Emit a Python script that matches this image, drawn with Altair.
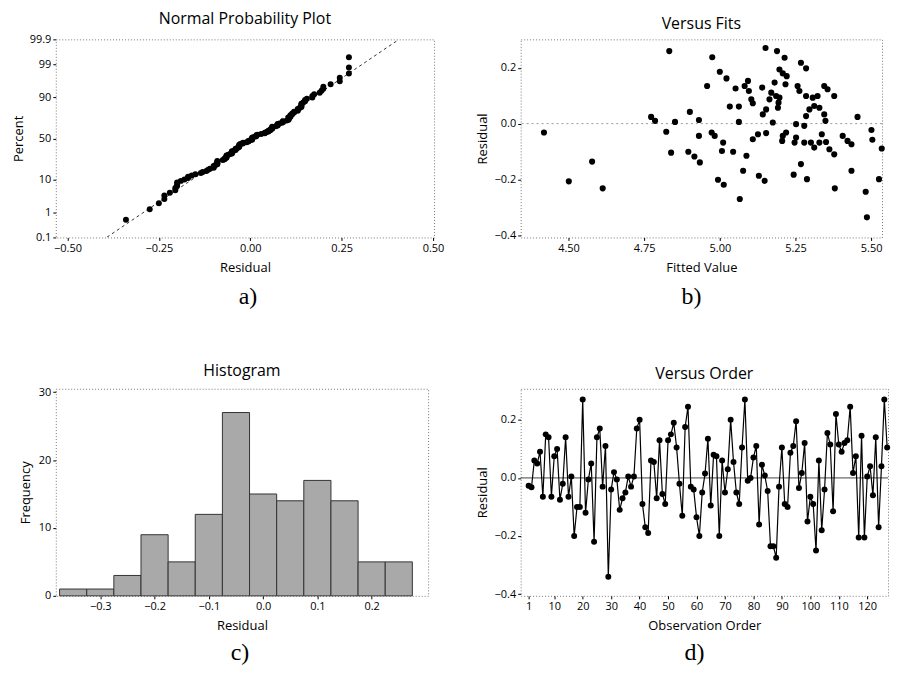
import altair as alt
import pandas as pd
from statistics import NormalDist, mean, stdev

# ---------------- data ----------------
# residuals in observation order (panel d)
residuals = [
    -0.027, -0.032, 0.06, 0.05, 0.09, -0.065, 0.15, 0.14, -0.065, 0.075,
    0.10, -0.075, -0.02, 0.14, -0.065, 0.005, -0.20, -0.10, -0.10, 0.27,
    -0.12, -0.005, 0.05, -0.22, 0.14, 0.17, -0.03, 0.11, -0.34, -0.04,
    0.02, -0.005, -0.11, -0.07, -0.05, 0.005, -0.03, 0.005, 0.17, 0.20,
    -0.09, -0.17, -0.19, 0.06, 0.055, -0.07, 0.13, -0.055, -0.09, 0.13,
    0.15, 0.19, 0.105, -0.02, -0.13, 0.175, 0.245, -0.03, -0.04, -0.135,
    -0.20, -0.05, 0.015, 0.135, -0.095, 0.08, 0.075, -0.20, 0.06, -0.05,
    0.03, 0.20, 0.055, -0.05, -0.09, 0.105, 0.27, -0.01, 0.0, 0.07,
    0.11, -0.16, 0.045, 0.008, -0.045, -0.235, -0.235, -0.275, -0.03, 0.105,
    -0.09, -0.10, 0.087, 0.11, 0.195, -0.035, 0.017, 0.12, -0.15, -0.065,
    -0.09, -0.25, 0.06, -0.18, -0.04, 0.155, 0.115, -0.115, 0.22, 0.115,
    0.09, 0.12, 0.13, 0.245, 0.017, 0.075, -0.205, 0.145, -0.205, 0.005,
    0.04, -0.06, 0.14, -0.17, 0.04, 0.27, 0.105,
]

# histogram (panel c)
hist_left = [-0.375, -0.325, -0.275, -0.225, -0.175, -0.125, -0.075,
             -0.025, 0.025, 0.075, 0.125, 0.175, 0.225]
hist_counts = [1, 1, 3, 9, 5, 12, 27, 15, 14, 17, 14, 5, 5]
bin_width = 0.05

# versus fits (panel b)
fits_x = [
    4.833, 4.419, 4.578, 4.501, 4.613, 4.773, 4.786, 4.823, 4.852, 4.901,
    4.931, 4.931, 4.839, 4.896, 4.916, 4.934,
    5.151, 5.189, 5.214, 4.975, 5.268, 5.285, 5.000, 5.022, 5.197, 5.208,
    5.221, 5.217, 5.093, 5.082, 5.052, 4.958, 5.140, 5.181, 5.096, 5.104,
    5.109, 5.170, 5.186, 5.197, 5.257, 5.263, 5.285, 5.307, 5.323, 5.345,
    5.356, 5.378, 5.164, 5.192, 5.194, 5.153, 5.142, 5.063, 5.033, 5.296,
    5.312, 5.329, 5.345, 5.349, 5.285, 5.455, 5.063, 5.175, 5.252, 5.279,
    5.252, 4.973, 4.983, 5.011, 5.007, 5.044, 5.088, 5.109, 5.126, 5.153,
    5.208, 5.206, 5.219, 5.247, 5.279, 5.301, 5.312, 5.329, 5.337, 5.351,
    5.362, 5.378, 5.406, 5.422, 5.435, 5.501, 5.504, 5.535, 5.077, 5.268,
    5.435, 5.129, 5.148, 5.244, 5.288, 4.994, 5.013, 5.526, 5.066, 5.380,
    5.482, 5.486,
]
fits_y = [
    0.260, -0.032, -0.136, -0.207, -0.232, 0.024, 0.010, -0.029, 0.006, 0.042,
    0.013, -0.044, -0.104, -0.101, -0.118, -0.139,
    0.271, 0.260, 0.236, 0.238, 0.218, 0.198, 0.186, 0.162, 0.194, 0.180,
    0.170, 0.141, 0.153, 0.135, 0.126, 0.135, 0.129, 0.147, 0.117, 0.087,
    0.073, 0.111, 0.099, 0.093, 0.135, 0.117, 0.099, 0.093, 0.099, 0.135,
    0.123, 0.099, 0.087, 0.057, 0.075, 0.051, 0.033, 0.061, 0.061, 0.051,
    0.063, 0.057, 0.033, 0.010, 0.027, 0.024, 0.006, 0.004, -0.002, -0.008,
    -0.050, -0.032, -0.044, -0.068, -0.098, -0.101, -0.115, -0.056, -0.038, -0.034,
    -0.044, -0.062, -0.032, -0.068, -0.068, -0.068, -0.086, -0.068, -0.038, -0.066,
    -0.092, -0.110, -0.044, -0.062, -0.074, -0.023, -0.058, -0.089, -0.169, -0.145,
    -0.169, -0.187, -0.205, -0.183, -0.199, -0.201, -0.219, -0.199, -0.270, -0.232,
    -0.244, -0.336,
]

pct_ticks = [0.1, 1, 10, 50, 90, 99, 99.9]
res_ticks = [-0.5, -0.25, 0.0, 0.25, 0.5]
fit_ticks = [4.5, 4.75, 5.0, 5.25, 5.5]
resid_ticks = [-0.4, -0.2, 0.0, 0.2]
hist_x_ticks = [-0.3, -0.2, -0.1, 0.0, 0.1, 0.2]
hist_y_ticks = [0, 10, 20, 30]
order_ticks = [1, 10, 20, 30, 40, 50, 60, 70, 80, 90, 100, 110, 120]

assert len(fits_x) == len(fits_y)

# ---------------- derived tables ----------------
nd = NormalDist()
n = len(residuals)
norm_df = pd.DataFrame({
    "residual": sorted(residuals),
    "z": [nd.inv_cdf((i + 1 - 0.3) / (n + 0.4)) for i in range(n)],
})
m, s = mean(residuals), stdev(residuals)
zlim = -nd.inv_cdf(0.001)
line_df = pd.DataFrame({"z": [-zlim, zlim]})
line_df["residual"] = m + s * line_df["z"]

pct_z = [nd.inv_cdf(p / 100) for p in pct_ticks]
label_expr = "''"
for p, z in reversed(list(zip(pct_ticks, pct_z))):
    label_expr = f"abs(datum.value - ({z:.6f})) < 0.001 ? '{p:g}' : ({label_expr})"

fits_df = pd.DataFrame({"fitted": fits_x, "residual": fits_y})
hist_df = pd.DataFrame({"left": hist_left, "count": hist_counts})
hist_df["right"] = hist_df["left"] + bin_width
order_df = pd.DataFrame({"obs": list(range(1, n + 1)), "residual": residuals})
zero_df = pd.DataFrame({"y": [0.0]})

SERIF = "Liberation Serif"


def caption(label, w, h, dy):
    return alt.Chart(pd.DataFrame({"cap": [label]})).mark_text(
        font=SERIF, fontSize=24, color="black"
    ).encode(x=alt.value(w / 2), y=alt.value(h + dy), text="cap:N")


# ---------------- panel a ----------------
WA, HA = 380, 199
xa = alt.X("residual:Q", scale=alt.Scale(domain=[-0.532, 0.503], nice=False, zero=False),
           axis=alt.Axis(values=res_ticks, format=".2f", title="Residual"))
ya = alt.Y("z:Q", scale=alt.Scale(domain=[-3.1, 3.1], nice=False),
           axis=alt.Axis(values=pct_z, labelExpr=label_expr, title="Percent", titlePadding=4))
line_a = alt.Chart(line_df).mark_line(color="#333333", strokeWidth=1, strokeDash=[3, 3], clip=True).encode(x=xa, y=ya)
pts_a = alt.Chart(norm_df).mark_circle(size=36, color="black", opacity=1).encode(x=xa, y=ya)
panel_a = alt.layer(line_a, pts_a, caption("a)", WA + 6, HA, 60)).properties(
    width=WA, height=HA, title="Normal Probability Plot")

# ---------------- panel b ----------------
WB, HB = 363, 199
yb_scale = alt.Scale(domain=[-0.408, 0.302], nice=False)
xb = alt.X("fitted:Q", scale=alt.Scale(domain=[4.342, 5.536], nice=False, zero=False),
           axis=alt.Axis(values=fit_ticks, format=".2f", title="Fitted Value"))
yb = alt.Y("residual:Q", scale=yb_scale,
           axis=alt.Axis(values=resid_ticks, format=".1f", title="Residual", titlePadding=5))
ref_b = alt.Chart(zero_df).mark_rule(color="#999999", strokeDash=[2, 3]).encode(
    y=alt.Y("y:Q", scale=yb_scale))
pts_b = alt.Chart(fits_df).mark_circle(size=38, color="black", opacity=1).encode(x=xb, y=yb)
panel_b = alt.layer(ref_b, pts_b, caption("b)", WB - 20, HB, 60)).properties(
    width=WB, height=HB, title="Versus Fits")

# ---------------- panel c ----------------
WC, HC = 374, 208
xc = alt.X("left:Q", scale=alt.Scale(domain=[-0.382, 0.304], nice=False, zero=False),
           axis=alt.Axis(values=hist_x_ticks, format=".1f", title="Residual"))
yc = alt.Y("count:Q", scale=alt.Scale(domain=[0, 30.5], nice=False),
           axis=alt.Axis(values=hist_y_ticks, title="Frequency", titlePadding=6))
bars_c = alt.Chart(hist_df).mark_rect(color="#a9a9a9", stroke="#333333", strokeWidth=1).encode(
    x=xc, x2="right:Q", y=yc, y2=alt.datum(0))
panel_c = alt.layer(bars_c, caption("c)", WC - 4, HC, 57)).properties(
    width=WC, height=HC, title="Histogram")

# ---------------- panel d ----------------
WD, HD = 369, 208
yd_scale = alt.Scale(domain=[-0.406, 0.307], nice=False)
xd = alt.X("obs:Q", scale=alt.Scale(domain=[-1.8, 127.3], nice=False, zero=False),
           axis=alt.Axis(values=order_ticks, format="d", title="Observation Order"))
yd = alt.Y("residual:Q", scale=yd_scale,
           axis=alt.Axis(values=resid_ticks, format=".1f", title="Residual", titlePadding=5))
ref_d = alt.Chart(zero_df).mark_rule(color="#444444", strokeWidth=1).encode(
    y=alt.Y("y:Q", scale=yd_scale))
line_d = alt.Chart(order_df).mark_line(color="black", strokeWidth=1.2).encode(x=xd, y=yd)
pts_d = alt.Chart(order_df).mark_circle(size=36, color="black", opacity=1).encode(x=xd, y=yd)
panel_d = alt.layer(ref_d, line_d, pts_d, caption("d)", WD - 20, HD, 57)).properties(
    width=WD, height=HD, title="Versus Order")

chart = alt.concat(
    panel_a, panel_b, panel_c, panel_d,
    columns=2, align="none", bounds="flush", spacing={"row": 152, "column": 87},
).properties(padding={"left": 3, "top": 0, "right": 0, "bottom": 0}).configure_view(
    stroke="#777777", strokeDash=[1, 2], strokeWidth=1
).configure_axis(
    labelFont="Open Sans", labelFontSize=11, labelColor="black",
    titleFont="Open Sans", titleFontSize=13, titleFontWeight="normal", titleColor="black",
    tickColor="black", tickSize=3, labelPadding=2, domain=False, grid=False,
).configure_axisX(titlePadding=8).configure_title(
    font="Open Sans", fontSize=16, fontWeight="normal", color="black", anchor="middle", offset=7
)

chart.save("out.html", embed_options={"renderer": "svg", "actions": False})
